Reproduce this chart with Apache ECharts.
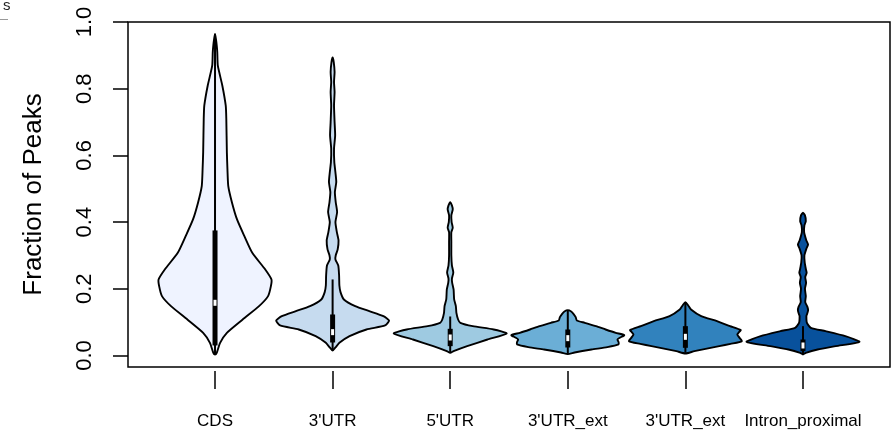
<!DOCTYPE html>
<html>
<head>
<meta charset="utf-8">
<script src="https://cdn.jsdelivr.net/npm/echarts@6/dist/echarts.min.js"></script>
<style>
  html, body { margin: 0; padding: 0; background: #fff; }
  #chart { width: 892px; height: 436px; }
</style>
</head>
<body>
<div id="chart"></div>
<script>
// 类别与刻度
const categories = ['CDS', "3'UTR", "5'UTR", "3'UTR_ext", "3'UTR_ext", 'Intron_proximal'];
const yTicks = [0, 0.2, 0.4, 0.6, 0.8, 1.0];
const violinColors = ['#eff3ff', '#c6dbef', '#9ecae1', '#6baed6', '#3182bd', '#08519c'];

// 小提琴轮廓: 纵坐标(分数) 与 相对密度(0-1)
const cdsLevels = [0.964, 0.95, 0.93, 0.909, 0.869, 0.809, 0.749, 0.709, 0.609, 0.559, 0.508, 0.459, 0.408, 0.358, 0.308, 0.258, 0.228, 0.208, 0.178, 0.148, 0.108, 0.068, 0.038, 0.008, 0.003];
const cdsDensity = [0, 0.015, 0.03, 0.04, 0.05, 0.13, 0.19, 0.2, 0.21, 0.22, 0.235, 0.3, 0.39, 0.52, 0.66, 0.89, 1.0, 0.99, 0.94, 0.78, 0.49, 0.21, 0.09, 0.03, 0];

const utr3Levels = [0.894, 0.88, 0.85, 0.82, 0.79, 0.75, 0.70, 0.66, 0.62, 0.58, 0.549, 0.52, 0.49, 0.46, 0.43, 0.40, 0.37, 0.345, 0.318, 0.30, 0.288, 0.27, 0.24, 0.21, 0.19, 0.168, 0.148, 0.133, 0.118, 0.105, 0.09, 0.078, 0.058, 0.038, 0.024, 0.015];
const utr3Density = [0, 0.02, 0.035, 0.025, 0.035, 0.025, 0.035, 0.045, 0.025, 0.03, 0.05, 0.065, 0.04, 0.055, 0.08, 0.05, 0.075, 0.105, 0.09, 0.055, 0.05, 0.1, 0.115, 0.12, 0.14, 0.2, 0.4, 0.65, 0.9, 1.0, 0.93, 0.6, 0.3, 0.12, 0.05, 0];

const utr5Levels = [0.46, 0.45, 0.438, 0.42, 0.40, 0.383, 0.37, 0.34, 0.30, 0.27, 0.249, 0.23, 0.218, 0.198, 0.168, 0.148, 0.128, 0.108, 0.098, 0.088, 0.078, 0.066, 0.048, 0.028, 0.013, 0.008];
const utr5Density = [0, 0.03, 0.045, 0.02, 0.025, 0.045, 0.02, 0.02, 0.02, 0.03, 0.055, 0.03, 0.035, 0.06, 0.07, 0.1, 0.11, 0.14, 0.18, 0.4, 0.77, 1.0, 0.66, 0.3, 0.06, 0];

const ext1Levels = [0.136, 0.132, 0.125, 0.115, 0.105, 0.098, 0.088, 0.078, 0.068, 0.061, 0.054, 0.048, 0.04, 0.033, 0.025, 0.018, 0.009, 0.004];
const ext1Density = [0, 0.06, 0.1, 0.14, 0.16, 0.3, 0.5, 0.67, 0.85, 1.0, 0.93, 0.88, 0.9, 0.9, 0.7, 0.42, 0.12, 0];

const ext2Levels = [0.16, 0.15, 0.138, 0.118, 0.103, 0.088, 0.076, 0.07, 0.063, 0.055, 0.043, 0.035, 0.028, 0.013, 0.006];
const ext2Density = [0, 0.05, 0.1, 0.28, 0.56, 0.79, 0.98, 0.95, 0.92, 0.95, 1.0, 0.8, 0.6, 0.16, 0];

const intronLevels = [0.428, 0.42, 0.403, 0.39, 0.37, 0.345, 0.333, 0.32, 0.30, 0.28, 0.26, 0.248, 0.235, 0.218, 0.2, 0.178, 0.16, 0.145, 0.135, 0.123, 0.118, 0.098, 0.083, 0.073, 0.058, 0.041, 0.028, 0.018, 0.008, 0.003];
const intronDensity = [0, 0.035, 0.05, 0.025, 0.02, 0.06, 0.09, 0.06, 0.025, 0.03, 0.05, 0.065, 0.04, 0.055, 0.035, 0.05, 0.04, 0.08, 0.09, 0.07, 0.06, 0.07, 0.14, 0.4, 0.75, 1.0, 0.58, 0.26, 0.05, 0];

// 箱线统计
const whiskerLow = [0.004, 0.015, 0.008, 0.005, 0.008, 0.004];
const q1 = [0.03, 0.039, 0.028, 0.024, 0.023, 0.013];
const median = [0.158, 0.07, 0.054, 0.052, 0.056, 0.03];
const q3 = [0.375, 0.123, 0.08, 0.078, 0.088, 0.048];
const whiskerHigh = [0.964, 0.228, 0.117, 0.136, 0.16, 0.088];

const violinLevels = [cdsLevels, utr3Levels, utr5Levels, ext1Levels, ext2Levels, intronLevels];
const violinDensity = [cdsDensity, utr3Density, utr5Density, ext1Density, ext2Density, intronDensity];
const HALF = 0.48;

function renderViolin(params, api) {
    const i = api.value(0);
    const lv = violinLevels[i];
    const dn = violinDensity[i];
    const right = lv.map((v, k) => api.coord([i + dn[k] * HALF, v]));
    const left = lv.map((v, k) => api.coord([i - dn[k] * HALF, v])).reverse().slice(1, -1);
    const cx = api.coord([i, 0])[0];
    const y = v => api.coord([i, v])[1];
    const yQ1 = y(q1[i]), yQ3 = y(q3[i]), yMed = y(median[i]);
    return {
        type: 'group',
        children: [
            {
                type: 'polygon',
                shape: { points: right.concat(left), smooth: 0.2 },
                style: { fill: violinColors[i], stroke: '#000', lineWidth: 1.9 }
            },
            {
                type: 'line',
                shape: { x1: cx, y1: y(whiskerHigh[i]), x2: cx, y2: y(whiskerLow[i]) },
                style: { stroke: '#000', lineWidth: 2 }
            },
            {
                type: 'rect',
                shape: { x: cx - 2.5, y: yQ3, width: 5, height: yQ1 - yQ3 },
                style: { fill: '#000' }
            },
            {
                type: 'rect',
                shape: { x: cx - 1.5, y: yMed - 3, width: 3, height: 6 },
                style: { fill: '#fff' }
            }
        ]
    };
}

const chart = echarts.init(document.getElementById('chart'));
const option = {
    animation: false,
    textStyle: { fontFamily: 'Liberation Sans' },
    grid: {
        left: 128, right: 2, top: 22, bottom: 69,
        show: true, borderColor: '#000', borderWidth: 1.5
    },
    xAxis: {
        type: 'value',
        min: -0.74,
        max: 5.74,
        offset: 4,
        axisLine: { show: false, onZero: false },
        splitLine: { show: false },
        axisTick: { show: true, length: 18, customValues: [0, 1, 2, 3, 4, 5], lineStyle: { color: '#000', width: 1.5 } },
        axisLabel: {
            customValues: [0, 1, 2, 3, 4, 5],
            formatter: v => categories[Math.round(v)],
            margin: 42,
            fontSize: 17,
            color: '#000'
        }
    },
    yAxis: {
        type: 'value',
        min: -0.0345,
        max: 1.0,
        axisLine: { show: false, onZero: false },
        splitLine: { show: false },
        axisTick: { show: true, length: 15, customValues: yTicks, lineStyle: { color: '#000', width: 1.5 } },
        axisLabel: {
            customValues: yTicks,
            formatter: v => v.toFixed(1),
            rotate: 90,
            margin: 32,
            fontSize: 22,
            color: '#000'
        },
        name: 'Fraction of Peaks',
        nameLocation: 'middle',
        nameRotate: 90,
        nameGap: 81,
        nameTextStyle: { fontSize: 26, color: '#000' }
    },
    graphic: [
        { type: 'text', left: 3, top: -2, style: { text: 's', fontSize: 15, fill: '#222', fontFamily: 'Liberation Sans' } },
        { type: 'rect', left: 0, top: 19, shape: { width: 8, height: 1 }, style: { fill: '#999' } }
    ],
    series: [{
        type: 'custom',
        renderItem: renderViolin,
        data: categories.map((c, i) => [i]),
        clip: false
    }]
};
chart.setOption(option);
window.addEventListener('resize', () => chart.resize());
</script>
</body>
</html>
